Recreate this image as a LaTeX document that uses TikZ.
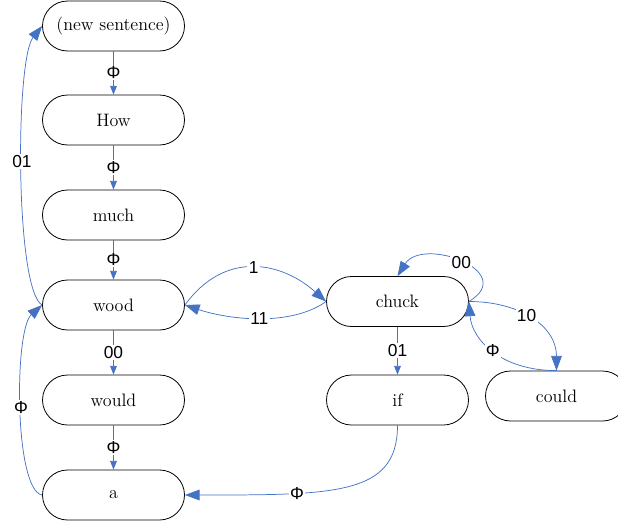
\documentclass[tikz,border=0pt]{standalone}
\usepackage{fontspec}
\newfontfamily\labfont{Liberation Sans}
\usetikzlibrary{arrows.meta}
\definecolor{edgeblue}{HTML}{4472C4}
\tikzset{
  word/.style={draw=black, line width=0.6pt, rounded corners=18.75pt,
    minimum width=106.5pt, minimum height=37.5pt, inner sep=0pt,
    font=\fontsize{13.5}{15}\selectfont},
  edge/.style={draw=edgeblue, line width=0.55pt},
  smalltip/.style={-{Triangle[length=6.5pt,width=5pt]}},
  bigtip/.style={-{Triangle[length=11pt,width=8pt]}},
  lab/.style={fill=white, inner sep=1pt, font=\labfont\fontsize{13}{15}\selectfont}
}
\begin{document}
\begin{tikzpicture}[x=0.75pt, y=-0.75pt]
\useasboundingbox (0,0) rectangle (618,525);
% nodes
\node[word] (ns)    at (113.5,26)  {(new sentence)};
\node[word] (how)   at (113.5,120) {How};
\node[word] (much)  at (113.5,215) {much};
\node[word] (wood)  at (113.5,305) {wood};
\node[word] (would) at (113.5,400) {would};
\node[word] (a)     at (113.5,495) {a};
\node[word] (chuck) at (397.5,301.5) {chuck};
\node[word] (if)    at (397.5,400) {if};
\node[word] (could) at (556.5,396) {could};
% straight edges
\draw[edge,smalltip] (ns) -- (how) node[midway,lab] {Φ};
\draw[edge,smalltip] (how) -- (much) node[midway,lab] {Φ};
\draw[edge,smalltip] (much) -- (wood) node[midway,lab] {Φ};
\draw[edge,smalltip] (wood) -- (would) node[midway,lab] {00};
\draw[edge,smalltip] (would) -- (a) node[midway,lab] {Φ};
\draw[edge,smalltip] (chuck) -- (if) node[midway,lab] {01};
% curved edges
\draw[edge,bigtip] (wood.west) .. controls +(-27,-15) and +(-27,34) .. (ns.west) node[pos=0.53,lab] {01};
\draw[edge,bigtip] (a.west) .. controls +(-28,-5) and +(-28,25) .. (wood.west) node[pos=0.5,lab] {Φ};
\draw[edge,bigtip] (wood.east) .. controls +(40,-55) and +(-45,-40) .. (chuck.west) node[pos=0.5,lab] {1};
\draw[edge,bigtip] (chuck.west) .. controls +(-35,25) and +(45,15) .. (wood.east) node[pos=0.5,lab] {11};
\draw[edge,bigtip] (chuck.east) .. controls +(50,-30) and +(25,-40) .. (chuck.north) node[pos=0.5,lab] {00};
\draw[edge,bigtip] (chuck.east) .. controls +(50,0) and +(0,-45) .. (could.north) node[pos=0.45,lab] {10};
\draw[edge,bigtip] (could.north) .. controls +(-56,0) and +(3,38) .. (chuck.east) node[pos=0.5,lab] {Φ};
\draw[edge,bigtip] (if.south) .. controls +(0,70) and +(150,0) .. (a.east) node[pos=0.7,lab] {Φ};
\end{tikzpicture}
\end{document}
